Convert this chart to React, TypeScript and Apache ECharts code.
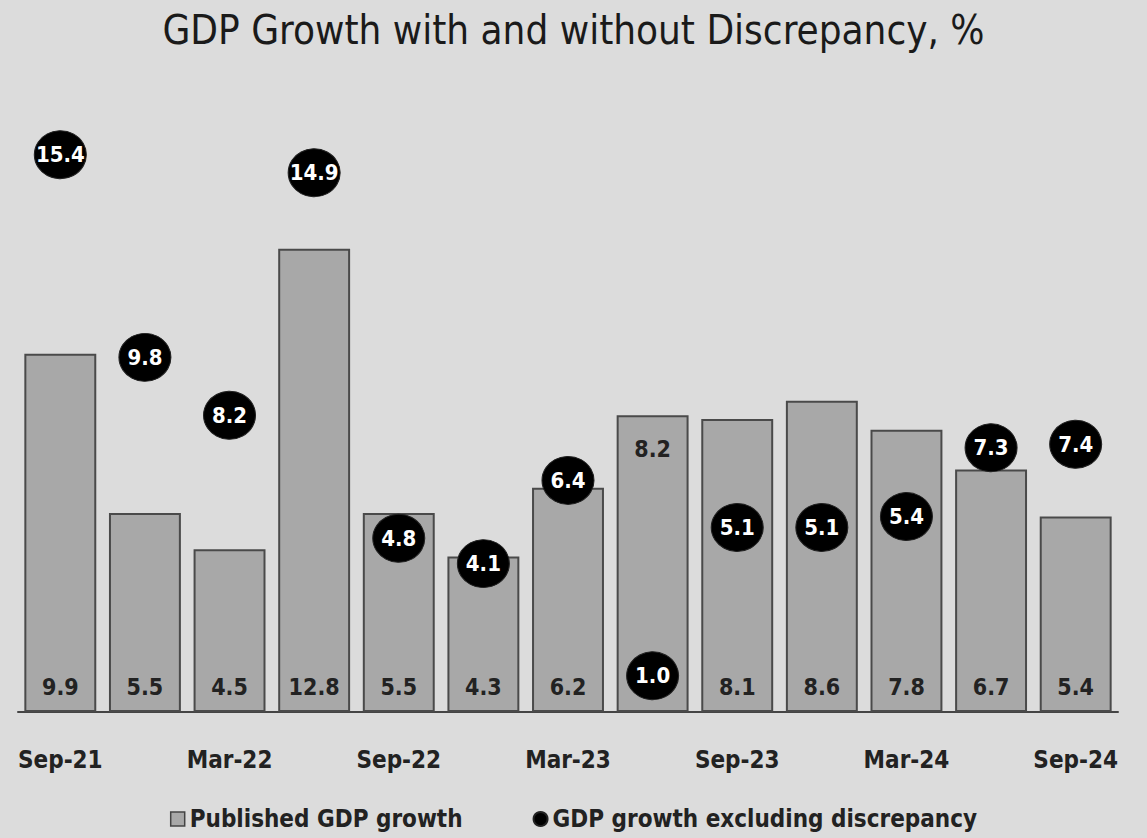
import React, { useEffect, useRef } from "react";
import * as echarts from "echarts";

const categories = ["Sep-21", "Dec-21", "Mar-22", "Jun-22", "Sep-22", "Dec-22", "Mar-23", "Jun-23", "Sep-23", "Dec-23", "Mar-24", "Jun-24", "Sep-24"];
const publishedGrowth = [9.9, 5.5, 4.5, 12.8, 5.5, 4.3, 6.2, 8.2, 8.1, 8.6, 7.8, 6.7, 5.4];
const excludingDiscrepancy = [15.4, 9.8, 8.2, 14.9, 4.8, 4.1, 6.4, 1.0, 5.1, 5.1, 5.4, 7.3, 7.4];
const topLabelIndex = 7;

const FONT = "'Liberation Sans Narrow', 'DejaVu Sans Condensed', 'Roboto Condensed', 'Arial Narrow', 'Roboto', sans-serif";

export default function App() {
  const ref = useRef<HTMLDivElement>(null);
  useEffect(() => {
    if (!ref.current) return;
    const chart = echarts.init(ref.current, null, { renderer: "svg" });
    chart.setOption({
      animation: false,
      backgroundColor: "#dcdcdc",
      textStyle: { fontFamily: FONT },
      title: {
        text: "GDP Growth with and without Discrepancy, %",
        left: "center",
        top: 5,
        textStyle: { fontFamily: FONT, fontSize: 40, fontWeight: "normal", color: "#1a1a1a" },
      },
      legend: {
        bottom: 2,
        left: "center",
        itemGap: 70,
        itemWidth: 14,
        itemHeight: 14,
        textStyle: { fontFamily: FONT, fontSize: 24, fontWeight: "bold", color: "#222" },
        data: [
          { name: "Published GDP growth", icon: "rect", itemStyle: { color: "#a8a8a8", borderColor: "#444", borderWidth: 1.5 } },
          { name: "GDP growth excluding discrepancy", icon: "circle", itemStyle: { color: "#000", opacity: 1 } },
        ],
      },
      grid: { left: 18, right: 29, top: 133, bottom: 126, containLabel: false },
      xAxis: {
        type: "category",
        data: categories,
        axisLine: { show: true, lineStyle: { color: "#444", width: 2 } },
        axisTick: { show: false },
        axisLabel: {
          interval: 1,
          margin: 36,
          fontFamily: FONT,
          fontSize: 24,
          fontWeight: "bold",
          color: "#222",
        },
      },
      yAxis: {
        type: "value",
        min: 0,
        max: 16,
        show: false,
        splitLine: { show: false },
      },
      series: [
        {
          name: "Published GDP growth",
          type: "bar",
          barCategoryGap: "15%",
          data: publishedGrowth.map((v, i) => ({
            value: v,
            label: i === topLabelIndex ? { position: "insideTop", distance: 22 } : undefined,
          })),
          itemStyle: { color: "#a8a8a8", borderColor: "#4a4a4a", borderWidth: 2 },
          label: {
            show: true,
            position: "insideBottom",
            distance: 14,
            fontFamily: FONT,
            fontSize: 23,
            fontWeight: "bold",
            color: "#222",
            formatter: (p: any) => Number(p.value).toFixed(1),
          },
          z: 2,
        },
        {
          name: "GDP growth excluding discrepancy",
          type: "scatter",
          data: excludingDiscrepancy,
          symbol: "circle",
          symbolSize: [52, 48],
          itemStyle: { color: "#000", opacity: 1, borderColor: "#222", borderWidth: 1 },
          label: {
            show: true,
            position: "inside",
            fontFamily: FONT,
            fontSize: 22,
            fontWeight: "bold",
            color: "#fff",
            formatter: (p: any) => Number(p.value).toFixed(1),
          },
          z: 3,
        },
      ],
    });
    return () => chart.dispose();
  }, []);
  return <div ref={ref} style={{ position: "fixed", left: 0, top: 0, width: 1147, height: 838 }} />;
}
